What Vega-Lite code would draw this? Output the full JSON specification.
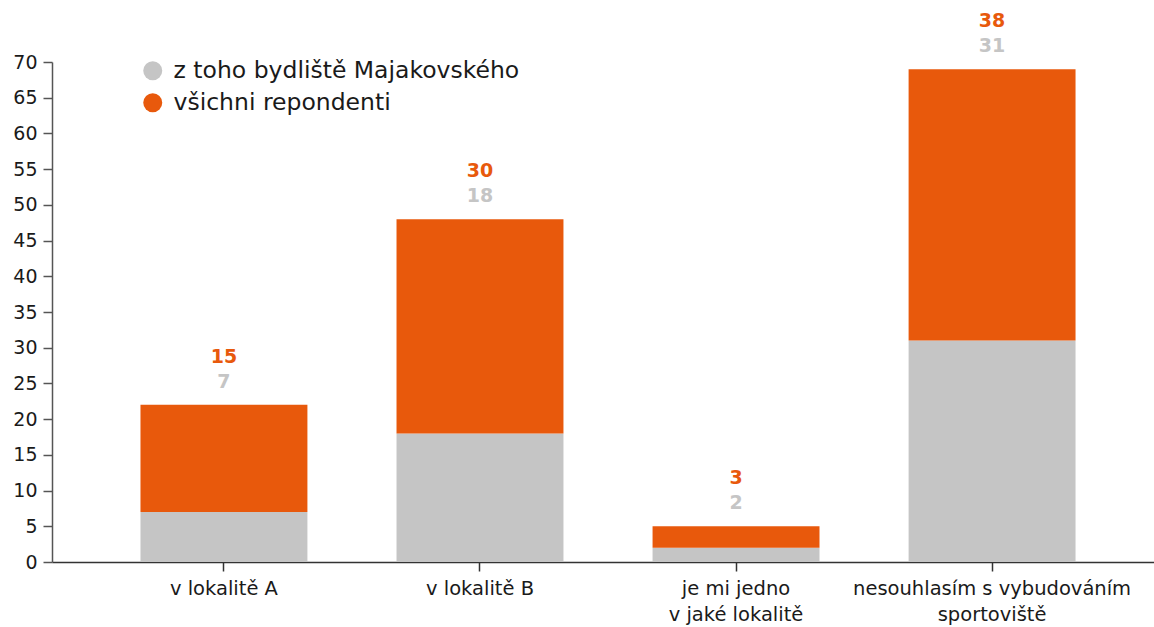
{
  "$schema": "https://vega.github.io/schema/vega-lite/v6.json",
  "autosize": {"type": "none"},
  "width": 1102,
  "height": 500,
  "padding": {"left": 52, "top": 62, "right": 0, "bottom": 65},
  "background": "white",
  "config": {
    "view": {"stroke": null},
    "font": "DejaVu Sans"
  },
  "data": {
    "values": [
      {"kategorie": "v lokalitě A", "skupina": "z toho bydliště Majakovského", "poradi": 1, "hodnota": 7},
      {"kategorie": "v lokalitě A", "skupina": "všichni repondenti", "poradi": 2, "hodnota": 15},
      {"kategorie": "v lokalitě B", "skupina": "z toho bydliště Majakovského", "poradi": 1, "hodnota": 18},
      {"kategorie": "v lokalitě B", "skupina": "všichni repondenti", "poradi": 2, "hodnota": 30},
      {"kategorie": "je mi jedno|v jaké lokalitě", "skupina": "z toho bydliště Majakovského", "poradi": 1, "hodnota": 2},
      {"kategorie": "je mi jedno|v jaké lokalitě", "skupina": "všichni repondenti", "poradi": 2, "hodnota": 3},
      {"kategorie": "nesouhlasím s vybudováním|sportoviště", "skupina": "z toho bydliště Majakovského", "poradi": 1, "hodnota": 31},
      {"kategorie": "nesouhlasím s vybudováním|sportoviště", "skupina": "všichni repondenti", "poradi": 2, "hodnota": 38}
    ]
  },
  "transform": [
    {"joinaggregate": [{"op": "sum", "field": "hodnota", "as": "celkem"}], "groupby": ["kategorie"]}
  ],
  "encoding": {
    "x": {
      "field": "kategorie",
      "type": "nominal",
      "sort": null,
      "title": null,
      "scale": {"paddingInner": 0.348, "paddingOuter": 0.326, "align": 0.53},
      "axis": {
        "labelAngle": 0,
        "labelExpr": "split(datum.label, '|')",
        "labelFontSize": 19.5,
        "labelColor": "#1a1a1a",
        "labelPadding": 8,
        "labelLineHeight": 26,
        "labelLimit": 500,
        "labelOverlap": false,
        "domainColor": "#333333",
        "domainWidth": 1.5,
        "tickColor": "#333333",
        "tickWidth": 1.5,
        "tickSize": 9,
        "grid": false
      }
    }
  },
  "layer": [
    {
      "mark": {"type": "bar"},
      "encoding": {
        "y": {
          "field": "hodnota",
          "type": "quantitative",
          "stack": "zero",
          "title": null,
          "scale": {"domain": [0, 70], "nice": false},
          "axis": {
            "values": [0, 5, 10, 15, 20, 25, 30, 35, 40, 45, 50, 55, 60, 65, 70],
            "labelOverlap": false,
            "labelFontSize": 19,
            "labelColor": "#1a1a1a",
            "labelPadding": 6,
            "domainColor": "#555555",
            "domainWidth": 1.5,
            "tickColor": "#555555",
            "tickWidth": 1.5,
            "tickSize": 9,
            "grid": false
          }
        },
        "color": {
          "field": "skupina",
          "type": "nominal",
          "sort": ["z toho bydliště Majakovského", "všichni repondenti"],
          "scale": {
            "domain": ["z toho bydliště Majakovského", "všichni repondenti"],
            "range": ["#c5c5c5", "#e8590c"]
          },
          "legend": {
            "title": null,
            "orient": "none",
            "legendX": 89,
            "legendY": -3,
            "symbolType": "circle",
            "symbolSize": 361,
            "symbolStrokeWidth": 0,
            "labelFontSize": 23.5,
            "labelColor": "#1a1a1a",
            "rowPadding": 7,
            "labelOffset": 9,
            "labelLimit": 500
          }
        },
        "order": {"field": "poradi", "type": "quantitative"}
      }
    },
    {
      "transform": [{"filter": "datum.poradi == 1"}],
      "mark": {"type": "text", "dy": -23, "fontSize": 19, "fontWeight": "bold", "color": "#c5c5c5", "baseline": "middle"},
      "encoding": {
        "y": {
          "field": "celkem",
          "type": "quantitative",
          "title": null,
          "axis": {
            "values": [0, 5, 10, 15, 20, 25, 30, 35, 40, 45, 50, 55, 60, 65, 70],
            "labelOverlap": false,
            "labelFontSize": 19,
            "labelColor": "#1a1a1a",
            "labelPadding": 6,
            "domainColor": "#555555",
            "domainWidth": 1.5,
            "tickColor": "#555555",
            "tickWidth": 1.5,
            "tickSize": 9,
            "grid": false
          }
        },
        "text": {"field": "hodnota", "type": "quantitative"}
      }
    },
    {
      "transform": [{"filter": "datum.poradi == 2"}],
      "mark": {"type": "text", "dy": -48, "fontSize": 19, "fontWeight": "bold", "color": "#e8590c", "baseline": "middle"},
      "encoding": {
        "y": {
          "field": "celkem",
          "type": "quantitative",
          "title": null,
          "axis": {
            "values": [0, 5, 10, 15, 20, 25, 30, 35, 40, 45, 50, 55, 60, 65, 70],
            "labelOverlap": false,
            "labelFontSize": 19,
            "labelColor": "#1a1a1a",
            "labelPadding": 6,
            "domainColor": "#555555",
            "domainWidth": 1.5,
            "tickColor": "#555555",
            "tickWidth": 1.5,
            "tickSize": 9,
            "grid": false
          }
        },
        "text": {"field": "hodnota", "type": "quantitative"}
      }
    }
  ]
}
